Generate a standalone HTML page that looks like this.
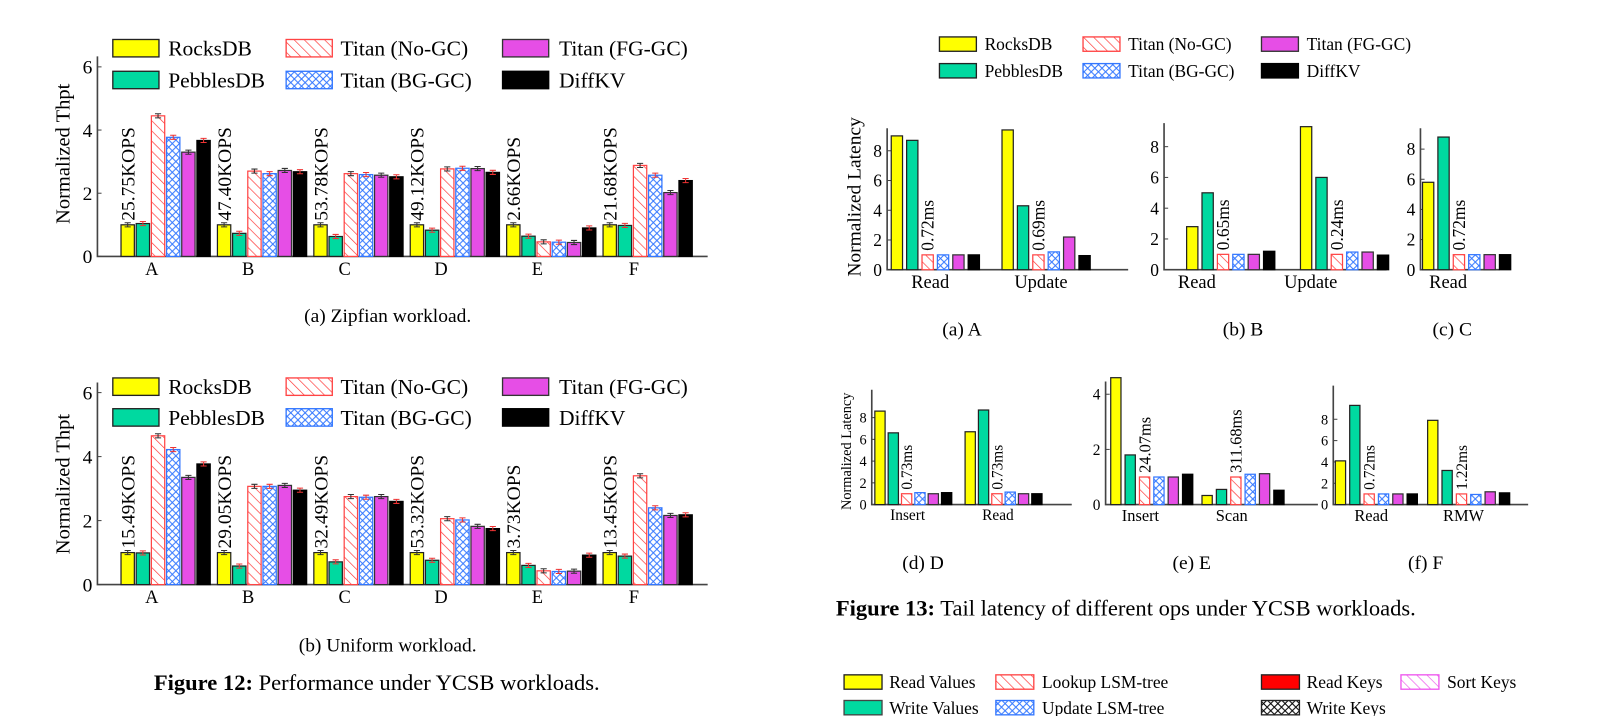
<!DOCTYPE html>
<html><head><meta charset="utf-8">
<style>
html,body{margin:0;padding:0;background:#fff;}
svg{display:block;font-family:"Liberation Serif",serif;}
</style></head>
<body>
<svg id="s" width="1607" height="716" viewBox="0 0 1607 716">
<defs>
<pattern id="hR" patternUnits="userSpaceOnUse" width="7" height="7" patternTransform="rotate(-45)"><rect width="7" height="7" fill="#fff"/><line x1="0" y1="0" x2="0" y2="7" stroke="#f33" stroke-width="1.3"/></pattern>
<pattern id="hB" patternUnits="userSpaceOnUse" width="7" height="7"><rect width="7" height="7" fill="#fff"/><path d="M0,0L7,7M7,0L0,7" stroke="#37f" stroke-width="1"/></pattern>
<pattern id="hM" patternUnits="userSpaceOnUse" width="7" height="7" patternTransform="rotate(-45)"><rect width="7" height="7" fill="#fff"/><line x1="0" y1="0" x2="0" y2="7" stroke="#e5e" stroke-width="1.3"/></pattern>
<pattern id="hK" patternUnits="userSpaceOnUse" width="7" height="7"><rect width="7" height="7" fill="#fff"/><path d="M0,0L7,7M7,0L0,7" stroke="#000" stroke-width="1"/></pattern>
</defs>
<g id="root" transform="scale(1.0256)"></g>
</svg>
<script>
// ---------- data ----------
const fig12Cats = ['A','B','C','D','E','F'];
const fig12aVals = [[1.0,1.04,4.45,3.77,3.3,3.67],[1.0,0.73,2.7,2.62,2.72,2.68],[1.0,0.63,2.62,2.59,2.57,2.52],[1.0,0.83,2.77,2.79,2.78,2.66],[1.0,0.64,0.46,0.45,0.44,0.9],[1.0,0.98,2.88,2.57,2.02,2.4]];
const fig12aKops = ['25.75KOPS','47.40KOPS','53.78KOPS','49.12KOPS','2.66KOPS','21.68KOPS'];
const fig12bVals = [[1,0.99,4.65,4.22,3.35,3.77],[1,0.58,3.07,3.07,3.1,2.95],[1,0.71,2.75,2.73,2.75,2.6],[1,0.76,2.06,2.02,1.82,1.75],[1,0.6,0.43,0.41,0.42,0.92],[1,0.89,3.4,2.4,2.16,2.18]];
const fig12bKops = ['15.49KOPS','29.05KOPS','32.49KOPS','53.32KOPS','3.73KOPS','13.45KOPS'];
const fig12Ticks = [0,2,4,6];

const f13aCats = ['Read','Update'];
const f13aVals = [[9.0,8.7,1,1,1,1],[9.4,4.3,1,1.2,2.2,0.95]];
const f13aLbl = ['0.72ms','0.69ms'];
const f13bCats = ['Read','Update'];
const f13bVals = [[2.8,5.0,1,1,1,1.2],[9.3,6.0,1,1.15,1.15,0.95]];
const f13bLbl = ['0.65ms','0.24ms'];
const f13cCats = ['Read'];
const f13cVals = [[5.8,8.8,1,1,1,1]];
const f13cLbl = ['0.72ms'];
const f13dCats = ['Insert','Read'];
const f13dVals = [[8.6,6.6,1,1.1,1,1.1],[6.7,8.7,1,1.15,1,1]];
const f13dLbl = ['0.73ms','0.73ms'];
const f13eCats = ['Insert','Scan'];
const f13eVals = [[4.6,1.8,1.0,1.0,1.0,1.1],[0.33,0.55,1.0,1.1,1.12,0.52]];
const f13eLbl = ['24.07ms','311.68ms'];
const f13fCats = ['Read','RMW'];
const f13fVals = [[4.1,9.3,1,1,1,1],[7.9,3.2,1,0.95,1.2,1.1]];
const f13fLbl = ['0.72ms','1.22ms'];
const ticks8 = [0,2,4,6,8];
const ticks4 = [0,2,4];

const seriesNames = ['rocksdb','pebblesdb','titan-no-gc','titan-bg-gc','titan-fg-gc','diffkv'];
const fills = ['#ff0','#00d9a0','url(#hR)','url(#hB)','#e64ee6','#000'];
const strokes = ['#222','#222','#f44','#37f','#333','#000'];

const S = document.getElementById('root');
const NS = 'http://www.w3.org/2000/svg';
function mk(tag, attrs, parent){const e=document.createElementNS(NS,tag);for(const k in attrs)e.setAttribute(k,attrs[k]);(parent||S).appendChild(e);return e;}
function txt(x,y,str,size,opt,parent){opt=opt||{};const t=mk('text',{x:x,y:y,'font-size':size,'text-anchor':opt.anchor||'middle',fill:'#000'},parent);if(opt.rot)t.setAttribute('transform','rotate(-90 '+x+' '+y+')');if(opt.weight)t.setAttribute('font-weight',opt.weight);t.textContent=str;return t;}

function chart(c){
  const g = mk('g',{});
  
  
  const y = v => c.y0 - v*c.ppu;
  const ax = mk('path',{d:'M'+c.ax+','+c.yTop+'L'+c.ax+','+c.y0+'L'+c.axEnd+','+c.y0,stroke:'#444','stroke-width':1.6,fill:'none'},g);
  
  
  c.ticks.forEach(t=>{
    mk('line',{x1:c.ax,x2:c.ax+4,y1:y(t),y2:y(t),stroke:'#444'},g);
    const tl = txt(c.ax-5,y(t)+c.tfs*0.35,String(t),c.tfs,{anchor:'end'},g);
    
    
  });
  c.vals.forEach((grp,i)=>{
    const gx = c.start + i*c.gp;
    grp.forEach((v,j)=>{
      const bx = gx + j*c.bp;
      const r = mk('rect',{x:bx,y:y(v),width:c.bw,height:v*c.ppu,fill:fills[j],stroke:strokes[j],'stroke-width':1.2},g);
      
      
      if(c.err){
        const ex = bx+c.bw/2, ey=y(v);
        mk('path',{d:'M'+(ex-3)+','+(ey-2)+'h6M'+ex+','+(ey-2)+'v4M'+(ex-3)+','+(ey+2)+'h6',stroke:j%2?'#e33':'#333','stroke-width':1},g);
      }
    });
    const cl = txt(gx + c.labOff, c.y0 + c.cfs, c.cats[i], c.cfs, {}, g);
    
    
    if(c.ann){
      const jj = c.annBar;
      const ax2 = gx + jj*c.bp + c.bw/2 + c.afs*0.35;
      const at = txt(ax2, y(grp[jj]) - 4, c.ann[i], c.afs, {anchor:'start',rot:true}, g);
      
      
    }
  });
  if(c.ylab){
    const yl = txt(c.ylx, c.yly, c.ylab, c.yfs, {rot:true}, g);
    
    
  }
}

// Figure 12
chart({name:'fig12a-chart',cats:fig12Cats,vals:fig12aVals,ann:fig12aKops,annBar:0,afs:19,ax:95,axEnd:690,y0:250,yTop:55,ppu:30.8,ticks:fig12Ticks,tfs:19,start:118,gp:94,bp:14.8,bw:13,labOff:30,cfs:18,err:true,ylab:'Normalized Thpt',ylx:68,yly:150,yfs:20});
chart({name:'fig12b-chart',cats:fig12Cats,vals:fig12bVals,ann:fig12bKops,annBar:0,afs:19,ax:95,axEnd:690,y0:570,yTop:373,ppu:31.2,ticks:fig12Ticks,tfs:19,start:118,gp:94,bp:14.8,bw:13,labOff:30,cfs:18,err:true,ylab:'Normalized Thpt',ylx:68,yly:472,yfs:20});

// Figure 13
chart({name:'fig13a-chart',cats:f13aCats,vals:f13aVals,ann:f13aLbl,annBar:2,afs:17,ax:865,axEnd:1100,y0:263,yTop:125,ppu:14.5,ticks:ticks8,tfs:17,start:869,gp:108,bp:15,bw:11,labOff:38,cfs:18,ylab:'Normalized Latency',ylx:839,yly:192,yfs:19});
chart({name:'fig13b-chart',cats:f13bCats,vals:f13bVals,ann:f13bLbl,annBar:2,afs:17,ax:1135,axEnd:1352,y0:263,yTop:120,ppu:15,ticks:ticks8,tfs:17,start:1157,gp:111,bp:15,bw:11,labOff:10,cfs:18});
chart({name:'fig13c-chart',cats:f13cCats,vals:f13cVals,ann:f13cLbl,annBar:2,afs:17,ax:1385,axEnd:1462,y0:263,yTop:125,ppu:14.7,ticks:ticks8,tfs:17,start:1387,gp:100,bp:15,bw:11,labOff:25,cfs:18});
chart({name:'fig13d-chart',cats:f13dCats,vals:f13dVals,ann:f13dLbl,annBar:2,afs:15,ax:850,axEnd:1045,y0:492,yTop:380,ppu:10.6,ticks:ticks8,tfs:14,start:853,gp:88,bp:13,bw:10,labOff:32,cfs:15,ylab:'Normalized Latency',ylx:830,yly:440,yfs:14});
chart({name:'fig13e-chart',cats:f13eCats,vals:f13eVals,ann:f13eLbl,annBar:2,afs:16,ax:1078,axEnd:1285,y0:492,yTop:372,ppu:26.9,ticks:ticks4,tfs:15,start:1083,gp:89,bp:14,bw:10,labOff:29,cfs:16});
chart({name:'fig13f-chart',cats:f13fCats,vals:f13fVals,ann:f13fLbl,annBar:2,afs:15,ax:1300,axEnd:1490,y0:492,yTop:376,ppu:10.4,ticks:ticks8,tfs:14,start:1302,gp:90,bp:14,bw:10,labOff:35,cfs:16});

// legends
const legNames = ['RocksDB','PebblesDB','Titan (No-GC)','Titan (BG-GC)','Titan (FG-GC)','DiffKV'];
function legend(cols, rows, sw, sh, fs, order){
  order.forEach((si,k)=>{
    const col = Math.floor(k/2), row = k%2;
    const x = cols[col][0], yy = rows[row];
    const r = mk('rect',{x:x,y:yy-sh/2,width:sw,height:sh,fill:fills[si],stroke:strokes[si],'stroke-width':1.3});
    
    
    const t = txt(cols[col][1], yy+fs*0.35, legNames[si], fs, {anchor:'start'});
    
    
  });
}
legend([[110,164],[279,332],[490,545]],[47,78],45,17,21,[0,1,2,3,4,5]);
legend([[110,164],[279,332],[490,545]],[377,407],45,17,21,[0,1,2,3,4,5]);
legend([[916,960],[1056,1100],[1230,1274]],[43,69],36,14,17,[0,1,2,3,4,5]);

// bottom legend
const botNames = ['Read Values','Write Values','Lookup LSM-tree','Update LSM-tree','Read Keys','Write Keys','Sort Keys'];
const botFills = ['#ff0','#00d9a0','url(#hR)','url(#hB)','#f00','url(#hK)','url(#hM)'];
const botStrokes = ['#222','#444','#f44','#37f','#222','#222','#e5e'];
const botPos = [[823,867,665],[823,867,690],[971,1016,665],[971,1016,690],[1230,1274,665],[1230,1274,690],[1366,1411,665]];
botNames.forEach((n,i)=>{
  const p = botPos[i];
  const r = mk('rect',{x:p[0],y:p[2]-7,width:37,height:14,fill:botFills[i],stroke:botStrokes[i],'stroke-width':1.3});
  
  
  const t = txt(p[1],p[2]+6,n,17,{anchor:'start'});
  
  
});

// captions
function cap(x,y,s,fs,name){const t=txt(x,y,s,fs);return t;}
cap(378,314,'(a)  Zipfian workload.',19,'caption-12a');
cap(378,635,'(b)  Uniform workload.',19,'caption-12b');
cap(938,327,'(a)  A',19,'caption-13a');
cap(1212,327,'(b)  B',19,'caption-13b');
cap(1416,327,'(c)  C',19,'caption-13c');
cap(900,555,'(d)  D',19,'caption-13d');
cap(1162,555,'(e)  E',19,'caption-13e');
cap(1390,555,'(f)  F',19,'caption-13f');
const f12 = txt(150,673,'',22,{anchor:'start'});


f12.innerHTML = '<tspan font-weight="bold">Figure 12:</tspan> Performance under YCSB workloads.';
const f13 = txt(815,600,'',22,{anchor:'start'});


f13.innerHTML = '<tspan font-weight="bold">Figure 13:</tspan> Tail latency of different ops under YCSB workloads.';
</script>
</body></html>
